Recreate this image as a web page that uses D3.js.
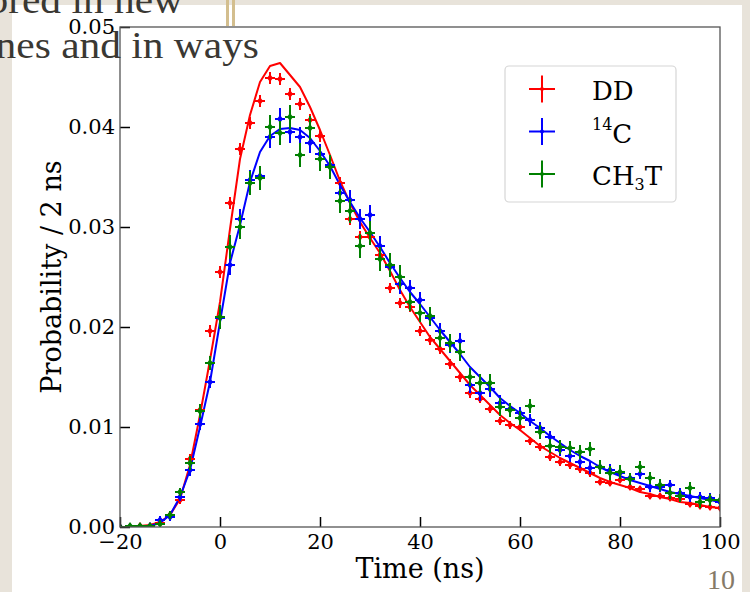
<!DOCTYPE html>
<html>
<head>
<meta charset="utf-8">
<script src="https://cdn.jsdelivr.net/npm/d3@7"></script>
<style>
  html, body { margin: 0; padding: 0; background: #e8e3da; }
  svg { display: block; }
</style>
</head>
<body>
<div id="chart"></div>
<script>
// time bins (ns), 2 ns wide
const times = [-20, -18, -16, -14, -12, -10, -8, -6, -4, -2, 0, 2, 4, 6, 8, 10, 12, 14, 16, 18,
  20, 22, 24, 26, 28, 30, 32, 34, 36, 38, 40, 42, 44, 46, 48, 50, 52, 54, 56, 58,
  60, 62, 64, 66, 68, 70, 72, 74, 76, 78, 80, 82, 84, 86, 88, 90, 92, 94, 96, 98, 100]

// measured pulse shapes (probability / 2 ns)
const ddPoints = [0, 0, 0.0001, 0.0001, 0.0004, 0.0012, 0.0027, 0.0068, 0.0117, 0.0196,
  0.0255, 0.0324, 0.0378, 0.0404, 0.0426, 0.0449, 0.0448, 0.0433, 0.0423, 0.0407,
  0.0391, 0.0361, 0.0344, 0.0308, 0.0290, 0.0290, 0.0272, 0.0239, 0.0224, 0.0220,
  0.0196, 0.0187, 0.0178, 0.0163, 0.0150, 0.0134, 0.0128, 0.0118, 0.0106, 0.0102,
  0.0100, 0.0086, 0.0080, 0.0070, 0.0065, 0.0062, 0.0058, 0.0054, 0.0045, 0.0044,
  0.0047, 0.0040, 0.0038, 0.0031, 0.0031, 0.0029, 0.0028, 0.0023, 0.0021, 0.0020, 0.0019]
const c14Points = [0, 0, 0, 0.0001, 0.0007, 0.0010, 0.0030, 0.0057, 0.0103, 0.0145,
  0.0209, 0.0262, 0.0308, 0.0347, 0.0351, 0.0390, 0.0408, 0.0395, 0.0390, 0.0384,
  0.0373, 0.0362, 0.0334, 0.0327, 0.0308, 0.0312, 0.0281, 0.0260, 0.0243, 0.0239,
  0.0227, 0.0209, 0.0196, 0.0182, 0.0186, 0.0142, 0.0134, 0.0138, 0.0124, 0.0118,
  0.0114, 0.0107, 0.0099, 0.0090, 0.0077, 0.0071, 0.0065, 0.0059, 0.0060, 0.0057,
  0.0054, 0.0049, 0.0053, 0.0040, 0.0040, 0.0042, 0.0034, 0.0030, 0.0030, 0.0029, 0.0025]
const ch3tPoints = [0, 0.0001, 0.0001, 0.0001, 0.0003, 0.0012, 0.0035, 0.0064, 0.0116, 0.0164,
  0.0210, 0.0280, 0.0300, 0.0344, 0.0349, 0.0400, 0.0394, 0.0410, 0.0372, 0.0399,
  0.0368, 0.0360, 0.0326, 0.0316, 0.0281, 0.0294, 0.0268, 0.0262, 0.0250, 0.0225,
  0.0214, 0.0211, 0.0189, 0.0184, 0.0175, 0.0150, 0.0144, 0.0144, 0.0120, 0.0117,
  0.0109, 0.0121, 0.0095, 0.0081, 0.0080, 0.0079, 0.0075, 0.0078, 0.0060, 0.0054,
  0.0055, 0.0048, 0.0060, 0.0049, 0.0042, 0.0034, 0.0031, 0.0039, 0.0025, 0.0027, 0.0027]

// vertical error bars
const ddErr = [0.0001, 0.0001, 0.0001, 0.0001, 0.0002, 0.0003, 0.0004, 0.0005, 0.0005, 0.0006,
  0.0006, 0.0006, 0.0006, 0.0006, 0.0006, 0.0006, 0.0006, 0.0006, 0.0006, 0.0006,
  0.0006, 0.0006, 0.0006, 0.0006, 0.0006, 0.0006, 0.0005, 0.0005, 0.0005, 0.0005,
  0.0005, 0.0005, 0.0005, 0.0005, 0.0005, 0.0005, 0.0004, 0.0004, 0.0004, 0.0004,
  0.0004, 0.0004, 0.0004, 0.0004, 0.0004, 0.0004, 0.0004, 0.0004, 0.0003, 0.0003,
  0.0003, 0.0003, 0.0003, 0.0003, 0.0003, 0.0003, 0.0003, 0.0003, 0.0003, 0.0003, 0.0003]
const c14Err = [0.0002, 0.0002, 0.0002, 0.0002, 0.0004, 0.0004, 0.0004, 0.0006, 0.0006, 0.0006,
  0.0010, 0.0010, 0.0010, 0.0010, 0.0010, 0.0011, 0.0011, 0.0011, 0.0010, 0.0010,
  0.0010, 0.0010, 0.0010, 0.0010, 0.0010, 0.0010, 0.0010, 0.0010, 0.0010, 0.0008,
  0.0008, 0.0008, 0.0008, 0.0008, 0.0008, 0.0008, 0.0008, 0.0008, 0.0008, 0.0006,
  0.0006, 0.0006, 0.0006, 0.0006, 0.0006, 0.0006, 0.0006, 0.0006, 0.0006, 0.0006,
  0.0006, 0.0005, 0.0005, 0.0005, 0.0005, 0.0005, 0.0005, 0.0005, 0.0005, 0.0005, 0.0005]
const ch3tErr = [0.0002, 0.0002, 0.0002, 0.0002, 0.0004, 0.0004, 0.0004, 0.0007, 0.0007, 0.0007,
  0.0012, 0.0012, 0.0012, 0.0012, 0.0012, 0.0012, 0.0012, 0.0012, 0.0012, 0.0012,
  0.0012, 0.0012, 0.0012, 0.0012, 0.0012, 0.0012, 0.0012, 0.0012, 0.0012, 0.0009,
  0.0009, 0.0009, 0.0009, 0.0009, 0.0009, 0.0009, 0.0009, 0.0009, 0.0009, 0.0007,
  0.0007, 0.0007, 0.0007, 0.0007, 0.0007, 0.0007, 0.0007, 0.0007, 0.0007, 0.0007,
  0.0007, 0.0006, 0.0006, 0.0006, 0.0006, 0.0006, 0.0006, 0.0006, 0.0006, 0.0006, 0.0006]
const binHalfWidth = 1

// fitted curves
const ddFit = [0, 0, 0.0001, 0.0002, 0.0005, 0.0012, 0.0028, 0.0062, 0.0112, 0.0167,
  0.0225, 0.0298, 0.0368, 0.0412, 0.0445, 0.0461, 0.0464, 0.0452, 0.0440, 0.0420,
  0.0397, 0.0372, 0.0346, 0.0324, 0.0305, 0.0289, 0.0274, 0.0256, 0.0237, 0.0220,
  0.0205, 0.0190, 0.0178, 0.0166, 0.0154, 0.0142, 0.0132, 0.0122, 0.0112, 0.0104,
  0.0097, 0.0089, 0.0081, 0.0075, 0.0069, 0.0064, 0.0059, 0.0054, 0.0049, 0.0045,
  0.0042, 0.0039, 0.0035, 0.0033, 0.0030, 0.0028, 0.0025, 0.0024, 0.0022, 0.0020, 0.0019]
const c14Fit = [0, 0, 0, 0.0001, 0.0004, 0.0012, 0.0030, 0.0057, 0.0100, 0.0145,
  0.0205, 0.0264, 0.0302, 0.0345, 0.0375, 0.0391, 0.0398, 0.0399, 0.0397, 0.0389,
  0.0376, 0.0361, 0.0342, 0.0325, 0.0309, 0.0295, 0.0280, 0.0264, 0.0249, 0.0235,
  0.0223, 0.0210, 0.0197, 0.0185, 0.0173, 0.0160, 0.0150, 0.0140, 0.0129, 0.0121,
  0.0114, 0.0106, 0.0099, 0.0091, 0.0084, 0.0077, 0.0071, 0.0066, 0.0060, 0.0055,
  0.0051, 0.0047, 0.0044, 0.0041, 0.0038, 0.0035, 0.0033, 0.0031, 0.0029, 0.0027, 0.0025]

const xTicks = [-20, 0, 20, 40, 60, 80, 100]
const yTicks = [0, 0.01, 0.02, 0.03, 0.04, 0.05]

const series = [
  {name: 'DD', color: '#ff0000', points: ddPoints, err: ddErr},
  {name: '14C', color: '#0000ff', points: c14Points, err: c14Err},
  {name: 'CH3T', color: '#008000', points: ch3tPoints, err: ch3tErr}
]
const fits = [
  {color: '#ff0000', values: ddFit},
  {color: '#0000ff', values: c14Fit}
]

//Dimensions
let dimensions = {
  width: 750,
  height: 592,
  margin: {top: 27, bottom: 65, left: 120, right: 30}
}
const containerWidth = dimensions.width - dimensions.margin.left - dimensions.margin.right
const containerHeight = dimensions.height - dimensions.margin.top - dimensions.margin.bottom

const svg = d3.select('#chart')
  .append('svg')
  .attr('width', dimensions.width)
  .attr('height', dimensions.height)

// slide backdrop
svg.append('rect')
  .attr('width', dimensions.width)
  .attr('height', dimensions.height)
  .attr('fill', '#e8e3da')
svg.append('rect')
  .attr('x', 12).attr('y', 5)
  .attr('width', 730).attr('height', 587)
  .attr('fill', '#ffffff')
svg.append('rect').attr('x', 226).attr('y', 0).attr('width', 3).attr('height', 26).attr('fill', '#d3be8e')
svg.append('rect').attr('x', 232).attr('y', 0).attr('width', 3).attr('height', 26).attr('fill', '#d3be8e')

const container = svg.append('g')
  .attr('transform', `translate(${dimensions.margin.left},${dimensions.margin.top})`)

//Scales
const xScale = d3.scaleLinear().domain([-20, 100]).range([0, containerWidth])
const yScale = d3.scaleLinear().domain([0, 0.05]).range([containerHeight, 0])

svg.append('defs').append('clipPath').attr('id', 'plotclip')
  .append('rect').attr('width', containerWidth).attr('height', containerHeight)

const plot = container.append('g').attr('clip-path', 'url(#plotclip)')

// fits
const line = d3.line()
  .x((d, i) => xScale(times[i]))
  .y(d => yScale(d))

plot.selectAll('path.fit')
  .data(fits)
  .join('path')
  .attr('class', 'fit')
  .attr('d', d => line(d.values))
  .attr('fill', 'none')
  .attr('stroke', d => d.color)
  .attr('stroke-width', 2)
  .attr('stroke-linejoin', 'round')

// error bar points
const diamond = 'M0,-4L3,0L0,4L-3,0Z'
series.forEach(s => {
  const rows = times.map((t, i) => ({t: t, v: s.points[i], e: s.err[i]}))
  const g = plot.append('g')
  g.selectAll('line.h').data(rows).join('line')
    .attr('x1', d => xScale(d.t - binHalfWidth)).attr('x2', d => xScale(d.t + binHalfWidth))
    .attr('y1', d => yScale(d.v)).attr('y2', d => yScale(d.v))
    .attr('stroke', s.color).attr('stroke-width', 2)
  g.selectAll('line.v').data(rows).join('line')
    .attr('x1', d => xScale(d.t)).attr('x2', d => xScale(d.t))
    .attr('y1', d => yScale(d.v - d.e)).attr('y2', d => yScale(d.v + d.e))
    .attr('stroke', s.color).attr('stroke-width', 2)
  g.selectAll('path').data(rows).join('path')
    .attr('d', diamond)
    .attr('transform', d => `translate(${xScale(d.t)},${yScale(d.v)})`)
    .attr('fill', s.color)
})

// Axes (ticks point inward)
const xAxis = d3.axisBottom(xScale).tickValues(xTicks).tickFormat(d3.format('d'))
  .tickSize(-10).tickPadding(7)
const xAxisGroup = container.append('g')
  .attr('transform', `translate(0, ${containerHeight})`)
  .call(xAxis)
const yAxis = d3.axisLeft(yScale).tickValues(yTicks).tickFormat(d3.format('.2f'))
  .tickSize(-10).tickPadding(5)
const yAxisGroup = container.append('g').call(yAxis)

;[xAxisGroup, yAxisGroup].forEach(g => {
  g.select('.domain').remove()
  g.selectAll('line').attr('stroke', '#000').attr('stroke-width', 1.5)
  g.selectAll('text')
    .attr('font-family', 'DejaVu Serif')
    .attr('font-size', '21px')
    .attr('fill', '#000')
})

// spines
container.append('rect')
  .attr('width', containerWidth)
  .attr('height', containerHeight)
  .attr('fill', 'none')
  .attr('stroke', '#555')
  .attr('stroke-width', 1.3)

container.append('text')
  .attr('x', containerWidth / 2)
  .attr('y', containerHeight + 51)
  .attr('font-size', '27px')
  .attr('text-anchor', 'middle')
  .attr('font-family', 'DejaVu Serif')
  .text('Time (ns)')

container.append('text')
  .attr('x', -containerHeight / 2)
  .attr('y', -59)
  .attr('font-size', '27px')
  .attr('text-anchor', 'middle')
  .attr('transform', 'rotate(-90)')
  .attr('font-family', 'DejaVu Serif')
  .text('Probability / 2 ns')

// Legend
const legend = svg.append('g')
legend.append('rect')
  .attr('x', 505).attr('y', 66)
  .attr('width', 171).attr('height', 136)
  .attr('rx', 4)
  .attr('fill', '#fff')
  .attr('stroke', '#d6d6d6')
  .attr('stroke-width', 1.2)

const legendRows = legend.selectAll('g.row')
  .data(series)
  .join('g')
  .attr('class', 'row')
  .attr('transform', (d, i) => `translate(542, ${89 + i * 42.5})`)
legendRows.append('line')
  .attr('x1', -13).attr('x2', 13)
  .attr('stroke', d => d.color).attr('stroke-width', 2)
legendRows.append('line')
  .attr('y1', -13.5).attr('y2', 13.5)
  .attr('stroke', d => d.color).attr('stroke-width', 2)
legendRows.append('path')
  .attr('d', 'M0,-3L2.5,0L0,3L-2.5,0Z')
  .attr('fill', d => d.color)

const legendText = legendRows.append('text')
  .attr('x', 50)
  .attr('y', 11)
  .attr('font-family', 'DejaVu Serif')
  .attr('font-size', '26px')
  .attr('fill', '#000')
legendText.each(function(d) {
  const t = d3.select(this)
  if (d.name === '14C') {
    t.append('tspan').attr('font-size', '16px').attr('dy', -13).text('14')
    t.append('tspan').attr('dy', 13).text('C')
  } else if (d.name === 'CH3T') {
    t.append('tspan').text('CH')
    t.append('tspan').attr('font-size', '16px').attr('dy', 5).text('3')
    t.append('tspan').attr('dy', -5).text('T')
  } else {
    t.text(d.name)
  }
})

// slide text that sits over the figure (wider Palatino-like face, so stretch to width)
const slideLines = [
  {text: 'bred in new', right: 183, y: 13},
  {text: 'nes and in ways', right: 259, y: 58}
]
slideLines.forEach(l => {
  const txt = svg.append('text')
    .attr('x', l.right).attr('y', l.y)
    .attr('text-anchor', 'end')
    .attr('font-family', 'Liberation Serif')
    .attr('font-size', '38px')
    .attr('fill', '#3a3833')
    .text(l.text)
  const w = txt.node().getComputedTextLength()
  txt.attr('textLength', w * 1.09).attr('lengthAdjust', 'spacingAndGlyphs')
})
svg.append('text')
  .attr('x', 735).attr('y', 589)
  .attr('text-anchor', 'end')
  .attr('font-family', 'Liberation Serif')
  .attr('font-size', '28px')
  .attr('fill', '#857a68')
  .text('10')
</script>
</body>
</html>
